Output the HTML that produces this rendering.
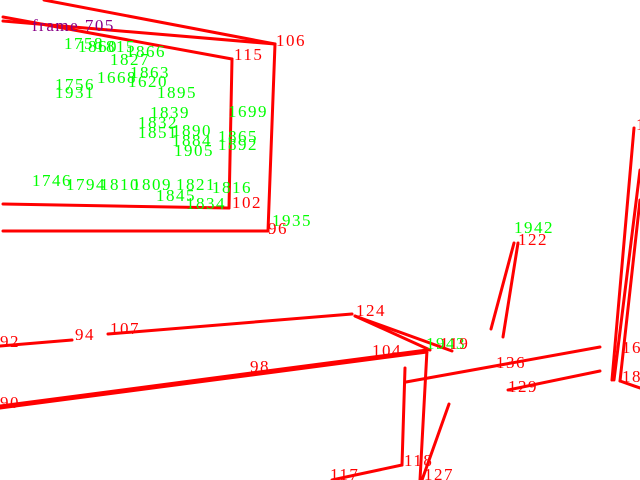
<!DOCTYPE html>
<html><head><meta charset="utf-8"><style>
html,body{margin:0;padding:0;background:#fff;}
svg{display:block;}
text{font-family:"Liberation Serif",serif;font-size:17px;letter-spacing:1.5px;}
.r{fill:#f00;} .g{fill:#0f0;} .p{fill:#808;}
</style></head><body>
<svg width="640" height="480" viewBox="0 0 640 480">
<g stroke="#f00" stroke-width="3" fill="none" stroke-linecap="round">
<line x1="44" y1="0" x2="275" y2="44"/>
<line x1="3" y1="21" x2="275" y2="44"/>
<line x1="3" y1="17" x2="232" y2="59"/>
<line x1="232" y1="59" x2="229" y2="208"/>
<line x1="3" y1="204" x2="229" y2="208"/>
<line x1="275" y1="44" x2="268" y2="231"/>
<line x1="3" y1="231" x2="268" y2="231"/>
<line x1="0" y1="346" x2="72" y2="340"/>
<line x1="108" y1="334" x2="352" y2="314"/>
<line x1="355" y1="316" x2="452" y2="351"/>
<line x1="355" y1="316" x2="430" y2="350"/>
<line x1="0" y1="406" x2="427" y2="350"/>
<line x1="0" y1="408" x2="427" y2="352"/>
<line x1="427" y1="350" x2="420" y2="480"/>
<line x1="405" y1="368" x2="402" y2="465"/>
<line x1="402" y1="465" x2="332" y2="480"/>
<line x1="406" y1="382" x2="600" y2="347"/>
<line x1="508" y1="390" x2="600" y2="371"/>
<line x1="449" y1="404" x2="422" y2="480"/>
<line x1="514" y1="243" x2="491" y2="329"/>
<line x1="518" y1="243" x2="503" y2="337"/>
<line x1="634" y1="128" x2="612" y2="380"/>
<line x1="640" y1="170" x2="614" y2="380"/>
<line x1="640" y1="200" x2="620" y2="381"/>
<line x1="620" y1="381" x2="640" y2="388"/>
</g>
<text x="32" y="31" class="p">frame 705</text>
<g class="g">
<text x="64" y="49">1758</text><text x="78" y="52">1860</text><text x="96" y="52">1815</text><text x="126" y="57">1866</text>
<text x="110" y="65">1827</text><text x="130" y="78">1863</text><text x="97" y="83">1668</text><text x="128" y="87">1620</text>
<text x="55" y="90">1756</text><text x="55" y="98">1931</text><text x="157" y="98">1895</text>
<text x="150" y="118">1839</text><text x="138" y="128">1832</text><text x="138" y="138">1851</text><text x="172" y="136">1890</text>
<text x="172" y="146">1884</text><text x="174" y="156">1905</text><text x="218" y="142">1865</text><text x="218" y="150">1892</text>
<text x="228" y="117">1699</text><text x="32" y="186">1746</text><text x="66" y="190">1794</text><text x="100" y="190">1810</text>
<text x="132" y="190">1809</text><text x="176" y="190">1821</text><text x="212" y="193">1816</text><text x="156" y="201">1845</text>
<text x="186" y="209">1834</text><text x="272" y="226">1935</text><text x="514" y="233">1942</text><text x="426" y="349">1943</text>
</g>
<g class="r">
<text x="276" y="46">106</text><text x="234" y="60">115</text><text x="232" y="208">102</text><text x="268" y="234">96</text>
<text x="0" y="347">92</text><text x="75" y="340">94</text><text x="110" y="334">107</text><text x="356" y="316">124</text>
<text x="250" y="372">98</text><text x="0" y="408">90</text><text x="372" y="356">104</text><text x="440" y="349">119</text>
<text x="518" y="245">122</text><text x="496" y="368">136</text><text x="508" y="392">129</text>
<text x="404" y="466">118</text><text x="330" y="480">117</text><text x="424" y="480">127</text>
<text x="636" y="130">1</text><text x="622" y="353">16</text><text x="622" y="382">18</text>
</g>
</svg>
</body></html>
